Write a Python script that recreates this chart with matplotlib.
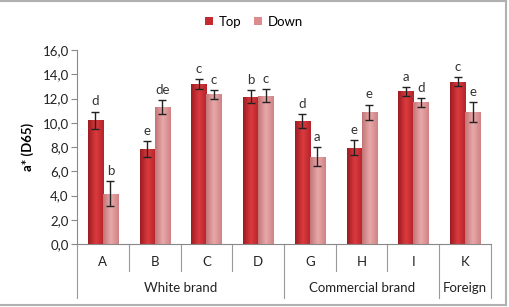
import numpy as np
import matplotlib.pyplot as plt
from matplotlib.colors import LinearSegmentedColormap

plt.rcParams['font.family'] = ['Lato', 'DejaVu Sans']

# dane
kategorie = ['A', 'B', 'C', 'D', 'G', 'H', 'I', 'K']
grupy = ['White brand', 'Commercial brand', 'Foreign']
rozmiar_grup = [4, 3, 1]
top = [10.2, 7.85, 13.2, 12.15, 10.15, 7.95, 12.6, 13.4]
top_err = [0.72, 0.65, 0.4, 0.55, 0.6, 0.62, 0.37, 0.36]
down = [4.15, 11.3, 12.35, 12.25, 7.2, 10.85, 11.7, 10.9]
down_err = [1.05, 0.6, 0.35, 0.5, 0.78, 0.65, 0.37, 0.8]
litery_top = ['d', 'e', 'c', 'b', 'd', 'e', 'a', 'c']
litery_down = ['b', 'de', 'c', 'c', 'a', 'e', 'd', 'e']

fs = 9.5
fig = plt.figure(figsize=(5.09, 3.07), dpi=100)
ax = fig.add_axes([0.1513, 0.2052, 0.8133, 0.6318])

x = np.arange(len(kategorie))
w = 0.29
kol_top = '#c42a2f'
kol_down = '#dc8c8e'
b1 = ax.bar(x - w/2, top, w, color=kol_top, label='Top', zorder=2)
b2 = ax.bar(x + w/2, down, w, color=kol_down, label='Down', zorder=2)

# gradient w poprzek slupka
cm_top = LinearSegmentedColormap.from_list('t', ['#9c1c21', '#dc3a3f', '#b3242a'])
cm_down = LinearSegmentedColormap.from_list('d', ['#c37577', '#e8a8a9', '#cf8284'])
grad = np.linspace(0, 1, 64).reshape(1, -1)
for bars, cm in [(b1, cm_top), (b2, cm_down)]:
    for p in bars:
        x0, y0 = p.get_x(), p.get_y()
        im = ax.imshow(grad, cmap=cm, aspect='auto', zorder=2.5,
                       extent=[x0, x0 + p.get_width(), y0, y0 + p.get_height()])
        im.set_clip_path(p)

ax.errorbar(x - w/2, top, yerr=top_err, fmt='none', ecolor='#222222',
            elinewidth=1, capsize=3, capthick=1, zorder=3)
ax.errorbar(x + w/2, down, yerr=down_err, fmt='none', ecolor='#222222',
            elinewidth=1, capsize=3, capthick=1, zorder=3)

for i in range(len(kategorie)):
    ax.annotate(litery_top[i], (x[i] - w/2, top[i] + top_err[i]), xytext=(0, 3),
                textcoords='offset points', ha='center', va='bottom', fontsize=fs, color='#333333')
    ax.annotate(litery_down[i], (x[i] + w/2, down[i] + down_err[i]), xytext=(0, 3),
                textcoords='offset points', ha='center', va='bottom', fontsize=fs, color='#333333')

ax.set_xlim(-0.5, len(kategorie) - 0.5)
ax.set_ylim(0, 16)
ax.set_yticks(np.arange(0, 17, 2))
ax.set_yticklabels([f'{v:.1f}'.replace('.', ',') for v in np.arange(0, 17, 2)])
ax.tick_params(axis='y', labelsize=fs, length=4, color='#888888', labelcolor='#222222', pad=2)
ax.set_xticks([])
for s in ['top', 'right']:
    ax.spines[s].set_visible(False)
ax.spines['left'].set_color('#888888')
ax.spines['bottom'].set_color('#888888')
ax.set_ylabel('a* (D65)', fontsize=fs, fontweight='bold', labelpad=6)

# etykiety kategorii i grup pod osia
tr = ax.get_xaxis_transform()
for i, k in enumerate(kategorie):
    ax.text(x[i], -0.093, k, transform=tr, ha='center', va='center', fontsize=fs, color='#222222')
granice = np.cumsum([0] + rozmiar_grup) - 0.5
for g in np.arange(-0.5, len(kategorie)):
    dol = -0.278 if g in granice else -0.14
    ax.plot([g, g], [0, dol], transform=tr, color='#999999', lw=0.8, clip_on=False)
for j, nazwa in enumerate(grupy):
    srodek = (granice[j] + granice[j + 1]) / 2
    ax.text(srodek, -0.227, nazwa, transform=tr, ha='center', va='center', fontsize=fs, color='#222222')

ax.legend(loc='center', bbox_to_anchor=(0.428, 1.145), ncol=2, frameon=False, fontsize=fs,
          handlelength=0.6, handleheight=0.6, handletextpad=0.4, columnspacing=1.0)

# ramka wokol rysunku
for xs, ys in [([0, 0.995], [0.997, 0.997]), ([0.995, 0.995], [0.997, 0.006]), ([0, 0.995], [0.006, 0.006])]:
    fig.add_artist(plt.Line2D(xs, ys, color='#b0b0b0', lw=1.5, transform=fig.transFigure))

fig.savefig('out.png', dpi=100)
